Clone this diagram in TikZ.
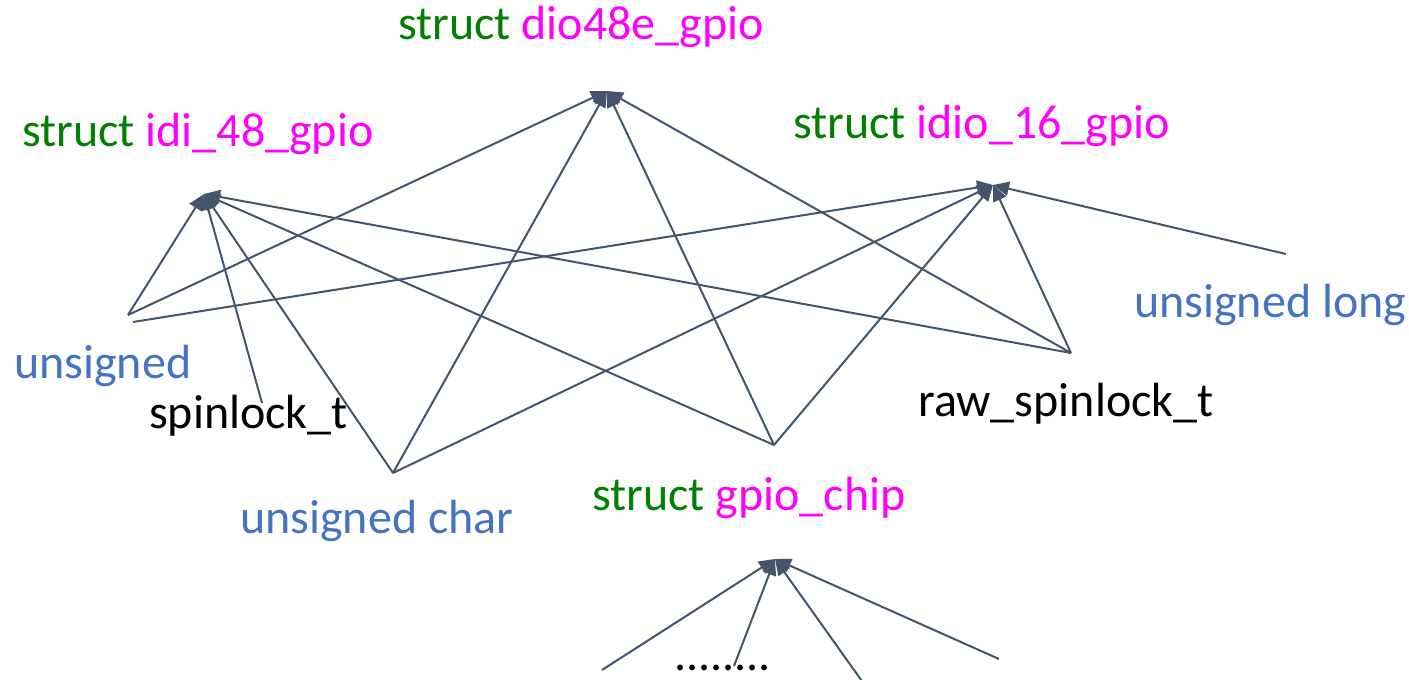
\documentclass[tikz,border=0pt]{standalone}
\usepackage{fontspec}
\setmainfont{Carlito}
\usetikzlibrary{arrows.meta}
\definecolor{edgecol}{HTML}{44546A}
\definecolor{kwgreen}{HTML}{008000}
\definecolor{typemag}{HTML}{FF00FF}
\definecolor{baseblue}{HTML}{4472C4}
\begin{document}
\begin{tikzpicture}[x=1pt,y=-1pt,
  lbl/.style={anchor=base west,inner sep=0pt,font=\fontsize{48}{58}\selectfont},
  link/.style={draw=edgecol,line width=2pt,-{Triangle[length=16pt,width=14pt]}}]
\useasboundingbox (0,0) rectangle (1409,680);

% struct names
\node[lbl,text=kwgreen] (dio)   at (398,39)  {struct \textcolor{typemag}{dio48e\_gpio}};
\node[lbl,text=kwgreen] (idi)   at (22,146)  {struct \textcolor{typemag}{idi\_48\_gpio}};
\node[lbl,text=kwgreen] (idio)  at (793,138) {struct \textcolor{typemag}{idio\_16\_gpio}};
\node[lbl,text=kwgreen] (chip)  at (592,510) {struct \textcolor{typemag}{gpio\_chip}};

% member types
\node[lbl,text=baseblue] (uns)   at (14,378)   {unsigned};
\node[lbl,text=black]    (spin)  at (149,428)  {spinlock\_t};
\node[lbl,text=baseblue] (uchar) at (240,533)  {unsigned char};
\node[lbl,text=black]    (raw)   at (918,416)  {raw\_spinlock\_t};
\node[lbl,text=baseblue] (ulong) at (1134,317) {unsigned long};
\node[lbl,text=black]    (dots)  at (674,670)  {........};

% arrow targets
\coordinate (dio-in)  at (607,91);
\coordinate (idi-in)  at (204,194);
\coordinate (idio-in) at (993,185);
\coordinate (chip-in) at (775,559);

% member end points
\coordinate (uns-a)   at (128,315);
\coordinate (uns-b)   at (133,322);
\coordinate (spin-a)  at (262,403);
\coordinate (uchar-a) at (393,473);
\coordinate (chip-a)  at (774,445);
\coordinate (raw-a)   at (1071,353);
\coordinate (ulong-a) at (1286,254);
\coordinate (m1) at (602,670);
\coordinate (m2) at (734,666);
\coordinate (m3) at (864,684);
\coordinate (m4) at (999,659);

% struct idi_48_gpio
\draw[link] (uns-a)   -- (idi-in);
\draw[link] (spin-a)  -- (idi-in);
\draw[link] (uchar-a) -- (idi-in);
\draw[link] (chip-a)  -- (idi-in);
\draw[link] (raw-a)   -- (idi-in);

% struct dio48e_gpio
\draw[link] (uns-a)   -- (dio-in);
\draw[link] (uchar-a) -- (dio-in);
\draw[link] (chip-a)  -- (dio-in);
\draw[link] (raw-a)   -- (dio-in);

% struct idio_16_gpio
\draw[link] (uns-b)   -- (idio-in);
\draw[link] (uchar-a) -- (idio-in);
\draw[link] (chip-a)  -- (idio-in);
\draw[link] (raw-a)   -- (idio-in);
\draw[link] (ulong-a) -- (idio-in);

% struct gpio_chip
\draw[link] (m1) -- (chip-in);
\draw[link] (m2) -- (chip-in);
\draw[link] (m3) -- (chip-in);
\draw[link] (m4) -- (chip-in);
\end{tikzpicture}
\end{document}
